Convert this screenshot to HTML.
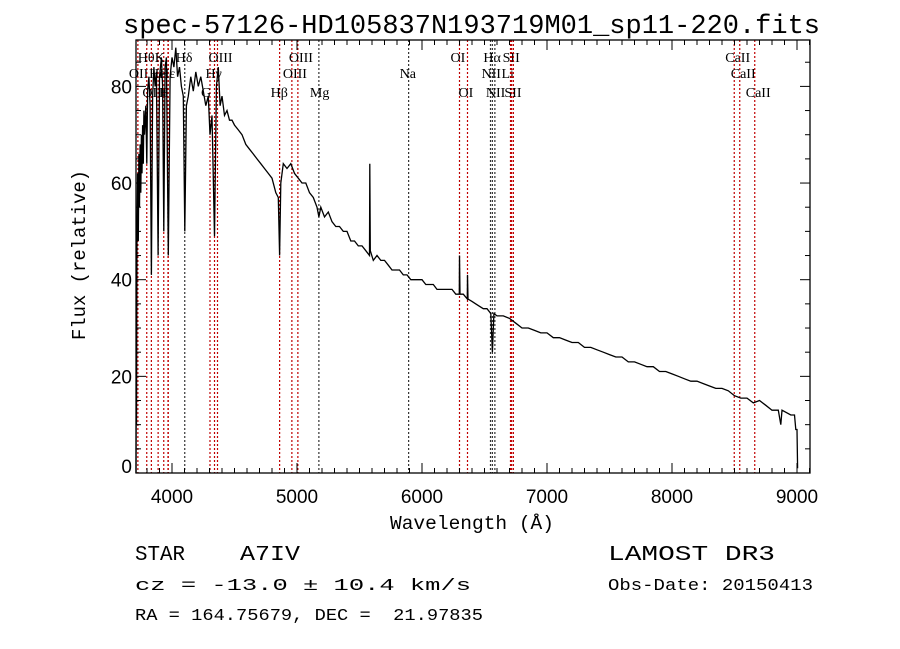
<!DOCTYPE html>
<html><head><meta charset="utf-8"><style>
html,body{margin:0;padding:0;background:#fff;}
svg{display:block;font-family:"Liberation Serif",serif;}
text{white-space:pre;}
</style></head><body>
<svg id="chart" width="900" height="649" viewBox="0 0 900 649" xmlns="http://www.w3.org/2000/svg">
<rect width="900" height="649" fill="#fff"/>
<text x="123" y="33" font-family="Liberation Mono, monospace" font-size="27" textLength="697" lengthAdjust="spacingAndGlyphs">spec-57126-HD105837N193719M01_sp11-220.fits</text>
<g id="lines"></g>
<g id="spec"></g>
<g id="axes"></g>
<text x="390" y="529" font-family="Liberation Mono, monospace" font-size="19" textLength="164" lengthAdjust="spacingAndGlyphs">Wavelength (Å)</text>
<text transform="translate(85,340) rotate(-90)" font-family="Liberation Mono, monospace" font-size="19" textLength="170" lengthAdjust="spacingAndGlyphs">Flux (relative)</text>
<text x="135" y="560" font-family="Liberation Mono, monospace" font-size="21" textLength="50" lengthAdjust="spacingAndGlyphs">STAR</text>
<text x="240" y="560" font-family="Liberation Mono, monospace" font-size="21" textLength="60" lengthAdjust="spacingAndGlyphs">A7IV</text>
<text x="135" y="590" font-family="Liberation Mono, monospace" font-size="17" textLength="336" lengthAdjust="spacingAndGlyphs">cz = -13.0 ± 10.4 km/s</text>
<text x="135" y="620" font-family="Liberation Mono, monospace" font-size="17" textLength="348" lengthAdjust="spacingAndGlyphs">RA = 164.75679, DEC =  21.97835</text>
<text x="608" y="560" font-family="Liberation Mono, monospace" font-size="21" textLength="167" lengthAdjust="spacingAndGlyphs">LAMOST DR3</text>
<text x="608" y="590" font-family="Liberation Mono, monospace" font-size="17" textLength="205" lengthAdjust="spacingAndGlyphs">Obs-Date: 20150413</text>
</svg>
<script>
const waves=[3712,3714,3716,3720,3725,3730,3735,3740,3745,3750,3755,3760,3765,3770,3775,3780,3790,3798,3805,3815,3825,3835,3845,3855,3865,3875,3889,3900,3915,3925,3934,3945,3955,3970,3985,4000,4015,4030,4045,4060,4075,4090,4102,4115,4130,4150,4170,4190,4210,4230,4250,4270,4290,4304,4320,4340,4355,4370,4385,4400,4420,4440,4460,4480,4500,4530,4560,4590,4620,4650,4680,4710,4740,4770,4800,4830,4850,4861,4870,4890,4920,4950,4980,5010,5040,5070,5100,5130,5160,5175,5190,5220,5250,5280,5310,5340,5370,5400,5430,5460,5490,5520,5550,5580,5582,5586,5610,5640,5670,5700,5730,5760,5790,5820,5850,5880,5910,5940,5970,6000,6030,6060,6090,6120,6150,6180,6210,6240,6270,6298,6300,6304,6330,6362,6364,6368,6400,6430,6460,6490,6520,6550,6563,6575,6600,6650,6700,6750,6800,6850,6900,6950,7000,7050,7100,7150,7200,7250,7300,7350,7400,7450,7500,7550,7600,7650,7700,7750,7800,7850,7900,7950,8000,8050,8100,8150,8200,8250,8300,8350,8400,8450,8500,8550,8600,8650,8700,8750,8800,8850,8870,8880,8950,8980,8990,9000,9005];
const flux=[0,27,10,50,62,48,66,55,68,58,70,62,72,64,75,70,76,64,79,82,76,41,78,84,80,83,45,82,86,80,50,84,86,45,82,86,84,88,82,84,80,78,50,76,78,82,79,83,80,82,79,76,78,70,74,49,80,84,76,78,74,75,73,73,72,71,70,68,67,66,65,64,63,62,61,58,57,45,60,64,63,64,62,61,60,60,58,57,55,53,55,53,54,52,51,51,50,50,48,48,47,47,46,45,64,46,44,45,44,44,43,42,42,42,41,41,40,40,40,40,39,39,39,38,38,38,38,38,37,37,45,37,37,36,41,36,35.5,35,34.5,34,34,33,25,33,32.5,32.5,32,31,30,30,29.5,29,29,28,28,27.5,27,27,26,26,25.5,25,24.5,24,24,23,23,22.5,22,22,21,21,20.5,20,19.5,19,19,18.5,18,17.5,17.5,17,16,15.5,15.5,14.5,15,14,13,13,10,13,12,12,9,9,1];
const lineWaves=[3727,3798,3835,3889,3934,3968,3970,4102,4304,4340,4364,4861,4959,5007,5175,5893,6300,6364,6548,6563,6583,6708,6717,6731,8498,8542,8662];
const lineColors=['r','r','r','r','r','r','r','k','r','r','r','r','r','r','k','k','r','r','k','k','k','r','r','r','r','r','r'];
const labelTexts=['OII','Hθ','OIII','He','K','H','Hε','Hδ','G','Hγ','OIII','Hβ','OIII','OIII','Mg','Na','OI','OI','NII','Hα','NII','Li','SII','SII','CaII','CaII','CaII'];
const labelRows=[1,0,2,1,0,2,1,0,2,1,0,2,1,0,2,1,0,2,1,0,2,1,0,2,0,1,2];
const xTicks=[4000,5000,6000,7000,8000,9000];
const yTicks=[0,20,40,60,80];
const X0=3712,X1=9104,Y0=0,Y1=89.6;
const L=136,R=810,T=40,B=473;
const xs=w=>L+(w-X0)/(X1-X0)*(R-L);
const ys=v=>B-(v-Y0)/(Y1-Y0)*(B-T);
const NS='http://www.w3.org/2000/svg';
function mk(t,a,p){const e=document.createElementNS(NS,t);for(const k in a)e.setAttribute(k,a[k]);p.appendChild(e);return e;}
const gl=document.getElementById('lines');
lineWaves.forEach((w,i)=>{
 const x=xs(w);
 const l=mk('line',{x1:x,x2:x,y1:T,y2:B,stroke:lineColors[i]=='r'?'#c00000':'#333','stroke-width':1.2,'stroke-dasharray':'2,2'},gl);
 
 
 const t=mk('text',{x:x-9,y:[62,78,97][labelRows[i]],'font-size':14},gl);
 t.textContent=labelTexts[i];
 
 
});
const gs=document.getElementById('spec');
let d='';
waves.forEach((w,i)=>{d+=(i?'L':'M')+xs(w).toFixed(1)+','+ys(flux[i]).toFixed(1);});
const p=mk('path',{d:d,fill:'none',stroke:'#000','stroke-width':1.3},gs);


const ga=document.getElementById('axes');
const fr=mk('rect',{x:L,y:T,width:R-L,height:B-T,fill:'none',stroke:'#000','stroke-width':1.3},ga);


for(let w=3800;w<=9100;w+=100){const x=xs(w);const len=(w%1000==0)?10:5;
 mk('line',{x1:x,x2:x,y1:B,y2:B-len,stroke:'#000'},ga);mk('line',{x1:x,x2:x,y1:T,y2:T+len,stroke:'#000'},ga);}
for(let v=0;v<=85;v+=5){const y=ys(v);const len=(v%20==0)?10:5;
 mk('line',{x1:L,x2:L+len,y1:y,y2:y,stroke:'#000'},ga);mk('line',{x1:R,x2:R-len,y1:y,y2:y,stroke:'#000'},ga);}
xTicks.forEach(w=>{const t=mk('text',{x:xs(w),y:B+30,'text-anchor':'middle','font-family':'Liberation Sans, sans-serif','font-size':19},ga);t.textContent=w;
 
 });
yTicks.forEach(v=>{const t=mk('text',{x:L-4,y:ys(v)+(v==0?0:7),'text-anchor':'end','font-family':'Liberation Sans, sans-serif','font-size':19},ga);t.textContent=v;
 
 });
</script>
</body></html>
